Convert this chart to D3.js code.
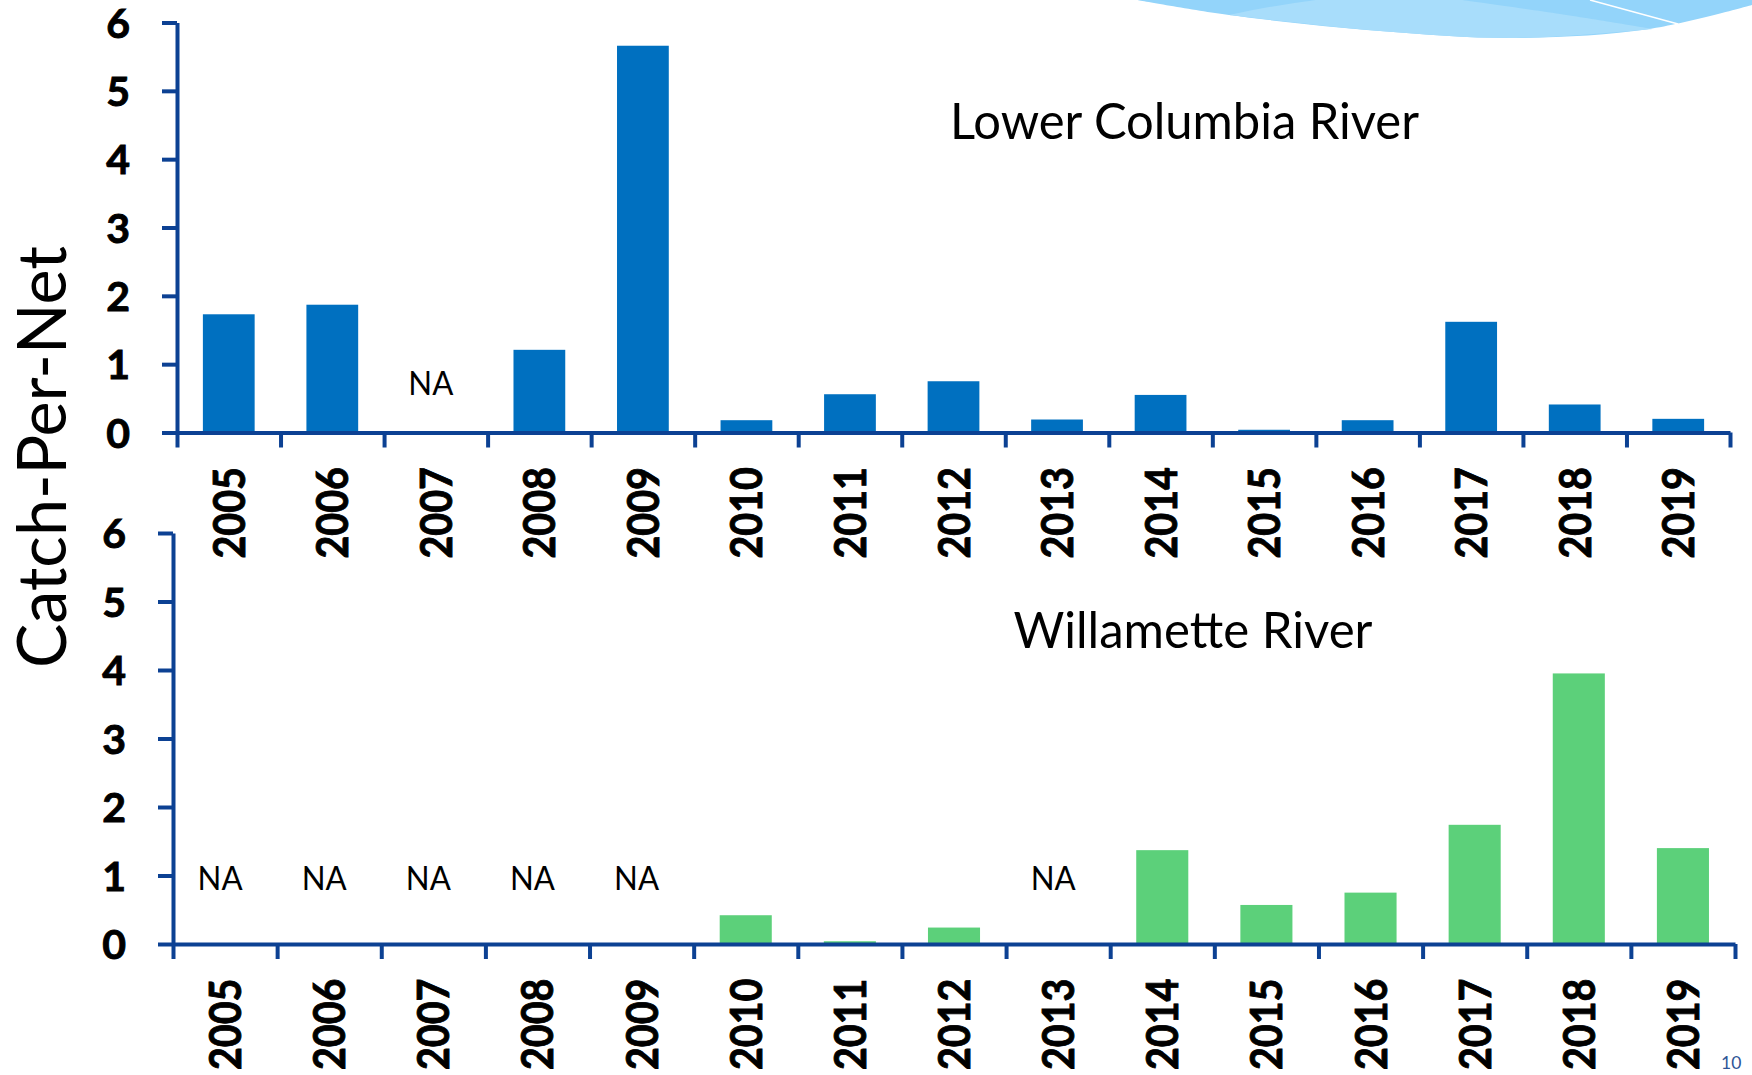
<!DOCTYPE html>
<html>
<head>
<meta charset="utf-8">
<script src="https://cdn.jsdelivr.net/npm/d3@7"></script>
<style>
  html, body { margin: 0; padding: 0; background: #ffffff; }
  svg { display: block; }
  text { font-family: Lato, "Open Sans", sans-serif; }
</style>
</head>
<body>
<svg id="chart" width="1752" height="1075"></svg>
<script>
// Survey years and catch-per-net by river (null = no sampling, shown as NA)
const years = ["2005","2006","2007","2008","2009","2010","2011","2012","2013","2014","2015","2016","2017","2018","2019"];
const lowerColumbia = [1.73, 1.87, null, 1.21, 5.66, 0.18, 0.56, 0.75, 0.19, 0.55, 0.04, 0.18, 1.62, 0.41, 0.20];
const willamette    = [null, null, null, null, null, 0.42, 0.04, 0.24, null, 1.37, 0.57, 0.75, 1.74, 3.95, 1.40];
const yTicks = [0, 1, 2, 3, 4, 5, 6];
const panelTitles = ["Lower Columbia River", "Willamette River"];
const yAxisLabel = "Catch-Per-Net";
const naLabel = "NA";
const pageNumber = "10";

const svg = d3.select("#chart");
const AXIS = "#0C4193";

// Decorative wave in the top-right corner
const waveLine = d3.line().curve(d3.curveCatmullRom.alpha(0.5));
const outer = [[1137,0],[1229,15],[1380,31],[1516,38],[1649,29],[1752,5]];
svg.append("path")
  .attr("d", "M1137,0 " + waveLine(outer).slice(1) + " L1752,0 Z")
  .attr("fill", "#93D4FA");
const innerRight = [[1462,0],[1560,14],[1653,29]];
const innerBottom = [[1653,29],[1516,38],[1380,31],[1229,15]];
svg.append("path")
  .attr("d", "M1316,0 L1462,0 " + waveLine(innerRight).replace(/^M[^C]*/, "") +
       " " + waveLine(innerBottom).replace(/^M[^C]*/, "") + " Q1270,6 1316,0 Z")
  .attr("fill", "#A8DDFB");
svg.append("line")
  .attr("x1", 1590).attr("y1", 0).attr("x2", 1678).attr("y2", 24)
  .attr("stroke", "#ffffff").attr("stroke-width", 1.5);

// Heavier bold digits, closer to the slide's bold face
function heavy(sel) {
  sel.attr("stroke", "#000").attr("stroke-width", 0.9).attr("paint-order", "stroke");
}

function drawPanel(cfg) {
  const g = svg.append("g");
  const x = d3.scaleBand().domain(years).range([cfg.x0, cfg.x1])
    .paddingInner(0.5).paddingOuter(0.25);
  const xEdge = d3.scaleLinear().domain([0, years.length]).range([cfg.x0, cfg.x1]);
  const y = d3.scaleLinear().domain([0, 6]).range([cfg.yBase, cfg.yTop]);

  // Bars
  const rows = years.map((yr, i) => ({ yr, v: cfg.values[i] }));
  g.selectAll("rect.bar").data(rows.filter(d => d.v !== null)).join("rect")
    .attr("class", "bar")
    .attr("x", d => x(d.yr))
    .attr("width", x.bandwidth())
    .attr("y", d => y(d.v))
    .attr("height", d => y(0) - y(d.v))
    .attr("fill", cfg.color);

  // NA markers for years without sampling
  g.selectAll("text.na").data(rows.filter(d => d.v === null)).join("text")
    .attr("class", "na")
    .attr("x", d => x(d.yr) + x.bandwidth() / 2 - 5)
    .attr("y", y(cfg.naAt))
    .attr("text-anchor", "middle")
    .attr("font-size", 33)
    .attr("textLength", 45).attr("lengthAdjust", "spacingAndGlyphs")
    .attr("fill", "#000")
    .text(naLabel);

  // Y axis
  const yAxis = g.append("g")
    .attr("transform", `translate(${cfg.x0},0)`)
    .call(d3.axisLeft(y).tickValues(yTicks).tickFormat(d3.format("d")).tickSize(15).tickSizeOuter(0).tickPadding(32));
  yAxis.selectAll("path, line").attr("stroke", AXIS).attr("stroke-width", 4);
  yAxis.selectAll("text")
    .attr("fill", "#000").attr("font-size", 41).attr("font-weight", 700)
    .attr("font-family", "Lato, sans-serif").attr("dy", "0.36em")
    .call(heavy);

  // X axis line with ticks at category boundaries
  const xAxis = g.append("g")
    .attr("transform", `translate(0,${cfg.yBase})`)
    .call(d3.axisBottom(xEdge).tickValues(d3.range(years.length + 1)).tickFormat("").tickSize(15).tickSizeOuter(0));
  xAxis.selectAll("path, line").attr("stroke", AXIS).attr("stroke-width", 4);

  // Year labels, rotated
  const xLabels = g.append("g")
    .attr("transform", `translate(0,${cfg.yBase})`)
    .call(d3.axisBottom(x).tickSize(0).tickPadding(0));
  xLabels.select(".domain").remove();
  xLabels.selectAll("text")
    .attr("fill", "#000").attr("font-size", 44.5).attr("font-weight", 700)
    .attr("font-family", "Lato, sans-serif")
    .attr("transform", "rotate(-90)")
    .attr("text-anchor", "end")
    .attr("x", -34.5).attr("y", 0).attr("dy", "0.36em")
    .attr("textLength", 91.6).attr("lengthAdjust", "spacingAndGlyphs")
    .call(heavy);

  // Panel title
  g.append("text")
    .attr("x", cfg.titleX).attr("y", cfg.titleY)
    .attr("font-size", 50).attr("fill", "#000")
    .attr("textLength", cfg.titleW).attr("lengthAdjust", "spacingAndGlyphs")
    .text(cfg.title);
}

drawPanel({
  values: lowerColumbia, color: "#0070C0",
  x0: 177, x1: 1730, yBase: 432.5, yTop: 22.5, naAt: 0.55,
  title: panelTitles[0], titleX: 950, titleY: 138.5, titleW: 469
});
drawPanel({
  values: willamette, color: "#5CD07A",
  x0: 173, x1: 1735, yBase: 944, yTop: 533, naAt: 0.79,
  title: panelTitles[1], titleX: 1013.5, titleY: 648, titleW: 359
});

// Shared y-axis title
svg.append("text")
  .attr("transform", "translate(66,457) rotate(-90)")
  .attr("text-anchor", "middle")
  .attr("font-size", 67).attr("fill", "#000")
  .attr("textLength", 422).attr("lengthAdjust", "spacingAndGlyphs")
  .text(yAxisLabel);

// Slide number
svg.append("text")
  .attr("x", 1721).attr("y", 1069)
  .attr("font-size", 17.5).attr("fill", "#2E5597")
  .text(pageNumber);
</script>
</body>
</html>
